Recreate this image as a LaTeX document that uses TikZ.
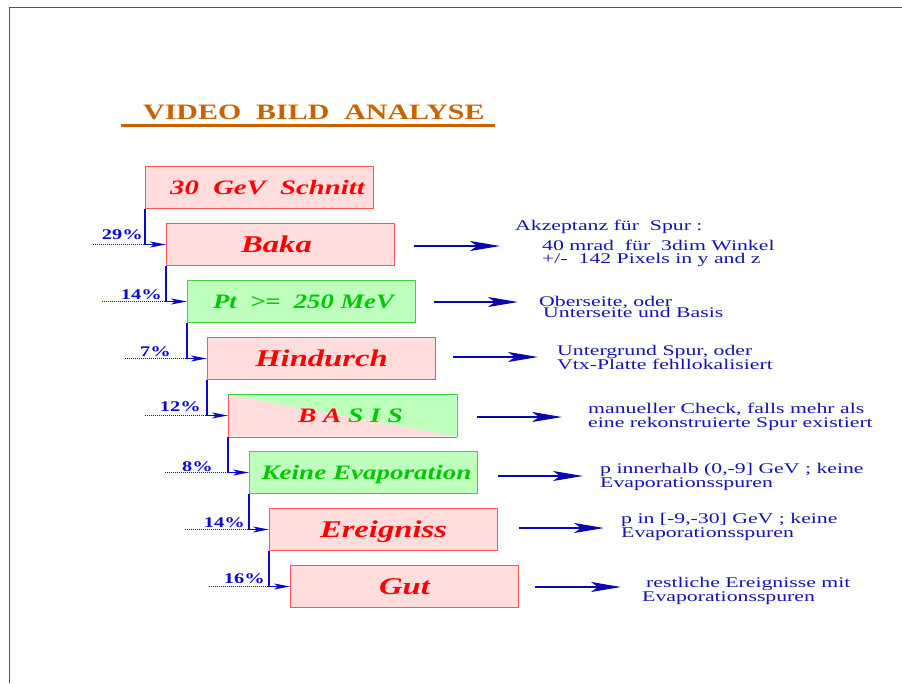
\documentclass[tikz,border=0pt]{standalone}
\usepackage{fontspec}
\usepackage{graphicx}
\setmainfont{Liberation Serif}
\usetikzlibrary{arrows.meta}

\definecolor{pinkfill}{RGB}{255,221,221}
\definecolor{greenfill}{RGB}{190,255,190}
\definecolor{boxred}{RGB}{255,85,85}
\definecolor{boxgreen}{RGB}{60,215,60}
\definecolor{labred}{RGB}{255,0,0}
\definecolor{labgreen}{RGB}{0,200,0}
\definecolor{notecol}{RGB}{20,20,175}
\definecolor{linkblue}{RGB}{10,10,205}
\definecolor{framecol}{RGB}{60,60,240}
\definecolor{titlecol}{RGB}{200,100,0}

% horizontally widened text
\newcommand\hstretch[2]{\scalebox{#1}[1]{#2}}

\begin{document}
\begin{tikzpicture}[x=1pt,y=-1pt,
  box/.style={anchor=north west, minimum width=228pt, minimum height=42pt,
    inner sep=0pt, line width=1pt},
  redbox/.style={box, fill=pinkfill, draw=boxred, text=labred},
  greenbox/.style={box, fill=greenfill, draw=boxgreen, text=labgreen},
  biglab/.style={font=\fontsize{24}{24}\selectfont\bfseries\itshape,
    text height=16pt, text depth=0pt},
  midlab/.style={font=\fontsize{20.5}{20.5}\selectfont\bfseries\itshape,
    text height=13.8pt, text depth=0pt},
  link/.style={draw=linkblue, line width=1.1pt,
    -{Stealth[length=16pt,width=6pt,inset=4pt]}},
  feed/.style={draw=linkblue, line width=1pt, dash pattern=on 1pt off 1pt},
  pct/.style={anchor=base east, inner sep=0pt, text=linkblue,
    font=\fontsize{14.8}{14.8}\selectfont\bfseries},
  exitarrow/.style={draw=linkblue!85!black, line width=1.1pt,
    -{Stealth[length=30pt,width=10pt,inset=7pt]}},
  note/.style={anchor=base west, inner sep=0pt, text=notecol,
    font=\fontsize{14.8}{14.8}\selectfont},
]
\useasboundingbox (0,0) rectangle (902,683);

% page frame
\draw[framecol, line width=1.6pt] (9.5,683) -- (9.5,7.5) -- (902,7.5);

% heading
\node[anchor=base west, inner sep=0pt, text=titlecol,
  font=\fontsize{22}{22}\selectfont\bfseries] (title) at (143,119)
  {\hstretch{1.36}{VIDEO\ \ BILD\ \ ANALYSE}};
\draw[titlecol, line width=3pt]
  ([xshift=-22pt,yshift=-6pt]title.base west) -- ([xshift=10pt,yshift=-6pt]title.base east);

% selection cascade
\node[redbox, midlab] (b1) at (145,166) {\hspace*{16pt}\hstretch{1.40}{30\ \ GeV\ \ Schnitt}};
\node[redbox, biglab] (b2) at (166,223) {\hstretch{1.36}{Baka}\hspace*{8pt}};
\node[greenbox, midlab] (b3) at (187,280) {\hspace*{4pt}\hstretch{1.30}{Pt\ \ >=\ \ 250 MeV}};
\node[redbox, biglab] (b4) at (207,337) {\hstretch{1.36}{Hindurch}};
\node[box, midlab,
  path picture={
    \fill[pinkfill] (path picture bounding box.north west) -- (path picture bounding box.south east)
      -- (path picture bounding box.south west) -- cycle;
    \fill[greenfill] (path picture bounding box.north west) -- (path picture bounding box.north east)
      -- (path picture bounding box.south east) -- cycle;}]
  (b5) at (228,394) {\hspace*{16pt}\hstretch{1.33}{{\color{labred}B A }{\color{labgreen}S I S}}};
\draw[boxred, line width=1pt] (b5.north west) -- (b5.south west) -- (b5.south east);
\draw[boxgreen, line width=1pt] (b5.north west) -- (b5.north east) -- (b5.south east);
\node[greenbox, midlab] (b6) at (249,451) {\hspace*{6pt}\hstretch{1.32}{Keine Evaporation}};
\node[redbox, biglab] (b7) at (269,508) {\hstretch{1.36}{Ereigniss}};
\node[redbox, biglab] (b8) at (290,565) {\hstretch{1.36}{Gut}};

% step links
\draw[link] (b1.south west) |- (b2.west);
\draw[link] (b2.south west) |- (b3.west);
\draw[link] (b3.south west) |- (b4.west);
\draw[link] (b4.south west) |- (b5.west);
\draw[link] (b5.south west) |- (b6.west);
\draw[link] (b6.south west) |- (b7.west);
\draw[link] (b7.south west) |- (b8.west);

% incoming dotted feeds
\coordinate (f2) at (93,0);
\coordinate (f3) at (102,0);
\coordinate (f4) at (125,0);
\coordinate (f5) at (145,0);
\coordinate (f6) at (165,0);
\coordinate (f7) at (185,0);
\coordinate (f8) at (209,0);
\draw[feed] (f2 |- b2.west) -- (b1.south west |- b2.west);
\draw[feed] (f3 |- b3.west) -- (b2.south west |- b3.west);
\draw[feed] (f4 |- b4.west) -- (b3.south west |- b4.west);
\draw[feed] (f5 |- b5.west) -- (b4.south west |- b5.west);
\draw[feed] (f6 |- b6.west) -- (b5.south west |- b6.west);
\draw[feed] (f7 |- b7.west) -- (b6.south west |- b7.west);
\draw[feed] (f8 |- b8.west) -- (b7.south west |- b8.west);

% fractions
\node[pct] (p2) at (143,239) {\hstretch{1.38}{29\%}};
\node[pct] (p3) at (162,299) {\hstretch{1.38}{14\%}};
\node[pct] (p4) at (171,356) {\hstretch{1.38}{7\%}};
\node[pct] (p5) at (201,411) {\hstretch{1.38}{12\%}};
\node[pct] (p6) at (213,471) {\hstretch{1.38}{8\%}};
\node[pct] (p7) at (245,527) {\hstretch{1.38}{14\%}};
\node[pct] (p8) at (265,583) {\hstretch{1.38}{16\%}};

% outgoing arrows
\coordinate (o2) at (500,246);
\coordinate (o3) at (518,302);
\coordinate (o4) at (538,357);
\coordinate (o5) at (562,417);
\coordinate (o6) at (583,476);
\coordinate (o7) at (604,528);
\coordinate (o8) at (621,587);
\draw[exitarrow] ([xshift=19pt]b2.east |- o2) -- (o2);
\draw[exitarrow] ([xshift=18pt]b3.east |- o3) -- (o3);
\draw[exitarrow] ([xshift=17pt]b4.east |- o4) -- (o4);
\draw[exitarrow] ([xshift=20pt]b5.east |- o5) -- (o5);
\draw[exitarrow] ([xshift=20pt]b6.east |- o6) -- (o6);
\draw[exitarrow] ([xshift=21pt]b7.east |- o7) -- (o7);
\draw[exitarrow] ([xshift=16pt]b8.east |- o8) -- (o8);

% explanations
\node[note] (n2a) at (515,230.5) {\hstretch{1.47}{Akzeptanz für\ \ Spur :}};
\node[note] (n2b) at (542,250.5) {\hstretch{1.47}{40 mrad\ \ für\ \ 3dim Winkel}};
\node[note] (n2c) at (542,263) {\hstretch{1.47}{+/-\ \ 142 Pixels in y and z}};
\node[note] (n3a) at (539,306.5) {\hstretch{1.47}{Oberseite, oder}};
\node[note] (n3b) at (543,317.5) {\hstretch{1.47}{Unterseite und Basis}};
\node[note] (n4a) at (557,355.5) {\hstretch{1.47}{Untergrund Spur, oder}};
\node[note] (n4b) at (557,369) {\hstretch{1.47}{Vtx-Platte fehllokalisiert}};
\node[note] (n5a) at (588,413.5) {\hstretch{1.47}{manueller Check, falls mehr als}};
\node[note] (n5b) at (588,427.5) {\hstretch{1.47}{eine rekonstruierte Spur existiert}};
\node[note] (n6a) at (600,473.5) {\hstretch{1.47}{p innerhalb (0,-9] GeV ; keine}};
\node[note] (n6b) at (600,487) {\hstretch{1.47}{Evaporationsspuren}};
\node[note] (n7a) at (621,523) {\hstretch{1.47}{p in [-9,-30] GeV ; keine}};
\node[note] (n7b) at (621,537) {\hstretch{1.47}{Evaporationsspuren}};
\node[note] (n8a) at (646,587) {\hstretch{1.47}{restliche Ereignisse mit}};
\node[note] (n8b) at (642,601) {\hstretch{1.47}{Evaporationsspuren}};
\end{tikzpicture}
\end{document}
